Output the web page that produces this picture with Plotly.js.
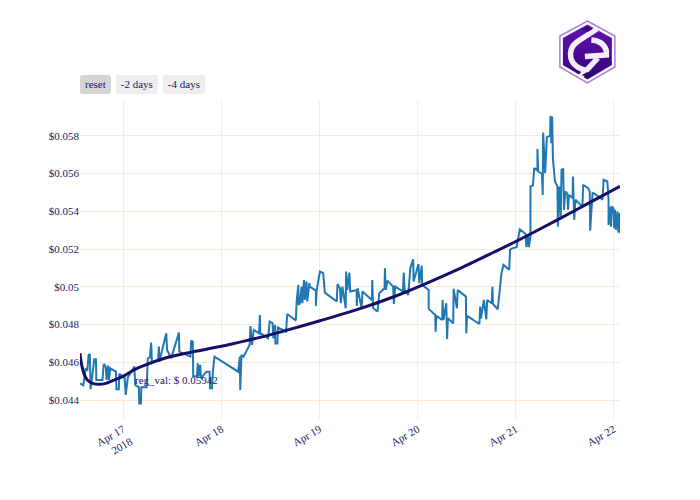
<!DOCTYPE html>
<html>
<head>
<meta charset="utf-8">
<script src="https://cdn.plot.ly/plotly-3.0.1.min.js"></script>
<style>html,body{margin:0;padding:0;background:#fff}</style>
</head>
<body>
<div id="chart" style="width:700px;height:500px"></div>
<script>
// hours counted from 17 Apr 2018 00:00
const priceHours = [-10.6,-9.8,-9.2,-8.8,-8.5,-8.2,-8.0,-7.5,-7.1,-6.7,-6.6,-5.1,-4.8,-4.3,-4.1,-3.7,-3.5,-3.2,-1.8,-1.7,-1.1,-1.0,0.3,0.6,1.1,2.7,2.9,3.8,3.9,4.3,4.4,5.7,6.0,6.5,6.8,7.0,8.5,8.7,8.8,10.5,10.7,11.7,13.6,13.7,16.4,16.6,17.0,17.1,18.0,18.2,18.4,18.8,19.0,20.3,21.1,21.2,21.7,21.9,22.3,28.1,28.5,28.6,28.9,29.4,30.9,31.1,31.5,31.9,33.2,33.4,
  33.5,35.4,35.8,36.5,36.7,37.1,37.2,37.7,37.8,39.8,40.1,42.2,42.4,42.8,42.9,43.2,43.6,43.8,44.2,44.4,44.8,45.0,45.5,45.6,47.1,47.1,47.3,48.1,48.9,49.3,52.2,52.4,53.0,53.2,53.6,54.4,54.5,54.8,55.3,55.5,57.1,57.1,57.3,58.3,58.5,60.8,60.9,61.1,62.2,62.6,63.9,64.0,64.2,64.6,66.0,66.2,66.5,68.4,68.6,68.8,69.7,70.2,70.9,71.0,72.2,72.4,73.0,73.1,74.7,74.7,76.3,76.4,76.6,78.0,78.1,78.3,79.0,79.2,79.4,80.7,80.8,81.6,81.8,83.8,83.9,84.1,87.1,87.3,87.5,88.2,88.8,89.0,90.1,90.3,90.4,91.6,92.1,92.5,93.0,94.4,94.6,
  95.1,96.2,96.5,97.0,98.4,98.6,99.0,99.2,99.6,99.6,100.2,100.5,101.3,101.3,101.5,102.4,102.6,102.7,103.2,103.6,104.4,104.5,104.7,104.9,105.1,105.6,106.2,106.3,106.7,107.0,107.2,107.6,107.8,108.1,108.6,108.8,109.0,109.9,110.0,110.3,110.6,112.3,112.5,113.7,114.1,114.2,114.5,114.8,116.8,117.2,117.5,118.4,118.7,118.7,119.0,119.3,119.5,119.9,120.1,120.3,120.5,120.9,121.1,121.4,121.5];
const priceValues = [.04488,.04478,.04568,.04556,.04639,.04644,.04457,.04550,.04616,.04616,.04506,.04506,.04591,.04577,.04506,.04582,.04506,.04568,.04550,.04457,.04457,.04538,.04520,.04427,.04520,.04577,.04480,.04467,.04382,.04382,.04467,.04467,.04621,.04626,.04704,.04594,.04612,.04683,.04603,.04754,.04665,.04621,.04757,.04656,.04630,.04715,.04709,.04527,.04524,.04594,.04524,.04586,.04515,.04550,.04550,.04462,.04462,.04550,.04630,.04550,.04630,.04453,.04639,.04630,.04692,.04792,.04692,.04771,.04754,.04851,
  .04754,.04727,.04815,.04807,.04727,.04798,.04699,.04699,.04785,.04762,.04856,.04821,.04922,.05010,.04904,.04913,.05001,.04913,.05036,.04930,.05028,.04922,.05019,.05001,.04980,.04899,.04983,.05081,.05072,.04969,.04922,.05015,.04992,.04913,.05001,.04886,.05081,.04983,.05075,.04975,.04983,.04899,.04992,.04886,.04975,.04930,.05036,.04886,.04869,.04966,.04992,.05098,.04983,.05033,.05001,.04909,.05001,.04975,.05075,.04983,.04957,.05098,.05146,.05028,.05121,.05019,.05111,.05010,.04983,.04883,.04851,.04762,.04846,.04824,.04930,.04824,.04913,.04724,.04833,.04807,.04989,.04886,.04983,.04948,.04754,.04846,.04803,.04895,.04833,.04930,.04828,.04930,.04913,.05001,.04909,.04881,.04975,.05072,.05116,.05090,.05196,
  .05204,.05210,.05249,.05305,.05280,.05210,.05275,.05210,.05266,.05532,.05537,.05629,.05616,.05730,.05611,.05599,.05487,.05818,.05602,.05793,.05800,.05906,.05761,.05903,.05673,.05558,.05532,.05319,.05532,.05372,.05620,.05623,.05408,.05505,.05493,.05408,.05487,.05470,.05585,.05355,.05461,.05425,.05540,.05523,.05505,.05298,.05399,.05500,.05470,.05461,.05567,.05558,.05461,.05328,.05425,.05319,.05425,.05417,.05311,.05408,.05302,.05399,.05288,.05390,.05284];
const regHours = [-10.6,-10.4,-10.0,-9.6,-8.8,-7.5,-5.9,-4.3,-2.6,-0.2,3.1,7.2,10.5,17.0,25.2,33.4,38.3,48.1,57.9,66.0,73.0,82.4,90.6,94.7,99.6,106.3,114.4,121.5];
const regValues = [.04648,.04612,.04568,.04538,.04506,.04488,.04483,.04488,.04503,.04524,.04565,.04601,.04624,.04655,.04690,.04732,.04760,.04820,.04884,.04946,.05008,.05098,.05183,.05226,.05280,.05356,.05450,.05532];

const startMs = Date.UTC(2018, 3, 17);
const toMs = h => startMs + h * 3600000;

const logo = '<svg xmlns="http://www.w3.org/2000/svg" width="120" height="128" viewBox="0 0 60 64">' +
  '<defs><linearGradient id="g" x1="0" y1="0" x2="0" y2="1"><stop offset="0" stop-color="#6412b8"/><stop offset="1" stop-color="#2f0672"/></linearGradient></defs>' +
  '<polygon points="29.5,1 57,16 57,47 29.5,63 2,47 2,16" fill="#fff" stroke="#a684d2" stroke-width="1.5"/>' +
  '<polygon points="29.5,4.5 54,18 54,45 29.5,59.5 5,45 5,18" fill="url(#g)"/>' +
  '<path d="M39 9 L19 22 Q11 28 13 38 Q15 47 29 51" fill="none" stroke="#f4eefa" stroke-width="5.5"/>' +
  '<path d="M33.5 20 Q46 21 48.5 31 L48.5 35 L27 36.5 M40 38 L23 56.5" fill="none" stroke="#f4eefa" stroke-width="5.5"/>' +
  '<polygon points="29.5,6 35,9 29.5,12 24,9" fill="#3d0880"/><polygon points="29.5,52 35,55 29.5,58 24,55" fill="#2f0672"/>' +
  '</svg>';

const traces = [
  {x: priceHours.map(toMs), y: priceValues, type: 'scatter', mode: 'lines', line: {color: '#1f77b4', width: 2}},
  {x: regHours.map(toMs), y: regValues, type: 'scatter', mode: 'lines', line: {color: '#170f68', width: 3, shape: 'spline'}}
];

const layout = {
  width: 700,
  height: 500,
  margin: {l: 80, r: 80, t: 100, b: 80},
  showlegend: false,
  paper_bgcolor: '#fff',
  plot_bgcolor: '#fff',
  font: {family: 'Liberation Serif, serif', size: 11, color: '#1d1763'},
  xaxis: {
    type: 'date',
    autorange: true,
    tickangle: -30,
    gridcolor: '#f1eeee',
    zeroline: false,
    rangeselector: {
      buttons: [
        {step: 'all', label: 'reset'},
        {count: 2, label: '-2 days', step: 'day', stepmode: 'backward'},
        {count: 4, label: '-4 days', step: 'day', stepmode: 'backward'}
      ]
    }
  },
  yaxis: {
    range: [0.04294, 0.0599],
    dtick: 0.002,
    tickprefix: '$',
    gridcolor: '#fce8d4',
    zeroline: false
  },
  annotations: [{
    x: toMs(13), y: 0.04506, xref: 'x', yref: 'y',
    text: 'reg_val: $ 0.05942',
    showarrow: false,
    font: {size: 11, color: '#1d1763'}
  }],
  images: [{
    source: 'data:image/svg+xml;charset=utf-8,' + encodeURIComponent(logo),
    xref: 'paper', yref: 'paper',
    x: 0.885, y: 1.25,
    sizex: 0.111, sizey: 0.2,
    xanchor: 'left', yanchor: 'top',
    layer: 'above'
  }]
};

Plotly.newPlot('chart', traces, layout, {displayModeBar: false});
</script>
</body>
</html>
